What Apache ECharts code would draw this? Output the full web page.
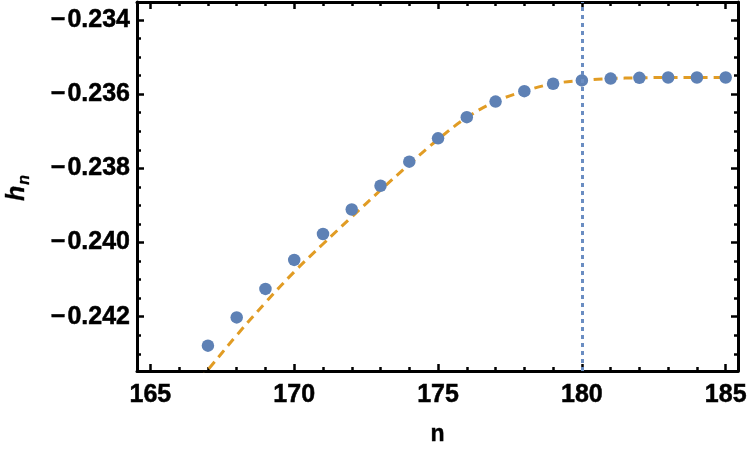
<!DOCTYPE html>
<html>
<head>
<meta charset="utf-8">
<script src="https://cdn.jsdelivr.net/npm/echarts@6/dist/echarts.min.js"></script>
<style>
html,body{margin:0;padding:0;background:#fff;}
#chart{width:750px;height:453px;}
</style>
</head>
<body>
<div id="chart"></div>
<script>
// ---- data ----
const nValues = [167,168,169,170,171,172,173,174,175,176,177,178,179,180,181,182,183,184,185];
const hValues = [-0.24278,-0.24202,-0.24125,-0.24047,-0.23977,-0.23911,-0.23847,-0.23782,-0.23719,-0.23662,-0.23620,-0.23592,-0.23572,-0.23563,-0.23558,-0.23556,-0.23555,-0.23555,-0.23555];
const fitN = [166,167,168,169,170,171,172,173,174,175,176,177,178,179,180,181,182,183,184,185];
const fitH = [-0.24432,-0.24343,-0.24250,-0.24162,-0.24079,-0.24004,-0.23931,-0.23859,-0.23789,-0.23722,-0.23663,-0.23620,-0.23592,-0.23572,-0.23563,-0.23558,-0.23556,-0.23555,-0.23555,-0.23555];
const markerN = [180];
const xMajorTicks = [165,170,175,180,185];
const xMinorTicks = [166,167,168,169,171,172,173,174,176,177,178,179,181,182,183,184];
const yMajorTicks = [-0.242,-0.240,-0.238,-0.236,-0.234];
const yMinorTicks = [-0.2430,-0.2425,-0.2415,-0.2410,-0.2405,-0.2395,-0.2390,-0.2385,-0.2375,-0.2370,-0.2365,-0.2355,-0.2350,-0.2345,-0.2340];
const xRange = [164.534, 185.428];
const yRange = [-0.243464, -0.233515];

const FONT = '"Liberation Sans", Arial, sans-serif';
const gridPos = {left:137, right:12, top:2, bottom:82};
const labelStyle = {color:'#000', fontFamily:FONT, fontWeight:'bold', fontSize:25, textBorderColor:'#000', textBorderWidth:0.5};

function xAx(grid, pos, ticks, len, withLine, labels) {
  return {
    type:'value', gridIndex:grid, position:pos, min:xRange[0], max:xRange[1],
    axisLine:{show:withLine, onZero:false, lineStyle:{color:'#000', width:3}},
    axisTick:{show:true, inside:true, length:len, customValues:ticks, lineStyle:{color:'#000', width:2.5}},
    axisLabel: labels ? Object.assign({show:true, customValues:ticks, margin:12}, labelStyle) : {show:false},
    splitLine:{show:false}
  };
}
function yAx(grid, pos, ticks, len, withLine, labels) {
  return {
    type:'value', gridIndex:grid, position:pos, min:yRange[0], max:yRange[1],
    axisLine:{show:withLine, onZero:false, lineStyle:{color:'#000', width:3}},
    axisTick:{show:true, inside:true, length:len, customValues:ticks, lineStyle:{color:'#000', width:2.5}},
    axisLabel: labels ? Object.assign({show:true, customValues:ticks, margin:7,
      formatter: v => '\u2212\u200A' + Math.abs(v).toFixed(3)}, labelStyle) : {show:false},
    splitLine:{show:false}
  };
}

const xAxes = [xAx(0,'bottom',xMajorTicks,7,true,true), xAx(0,'top',xMajorTicks,7,true,false),
               xAx(1,'bottom',xMinorTicks,4,false,false), xAx(1,'top',xMinorTicks,4,false,false)];
xAxes[0].name = 'n';
xAxes[0].nameLocation = 'middle';
xAxes[0].nameGap = 52;
xAxes[0].nameTextStyle = {color:'#000', fontFamily:FONT, fontWeight:'bold', fontSize:23, textBorderColor:'#000', textBorderWidth:0.4};
const yAxes = [yAx(0,'left',yMajorTicks,7,true,true), yAx(0,'right',yMajorTicks,7,true,false),
               yAx(1,'left',yMinorTicks,4,false,false), yAx(1,'right',yMinorTicks,4,false,false)];

const chart = echarts.init(document.getElementById('chart'), null, {renderer:'canvas'});
chart.setOption({
  animation:false,
  backgroundColor:'#fff',
  grid:[Object.assign({}, gridPos), Object.assign({}, gridPos)],
  xAxis:xAxes,
  yAxis:yAxes,
  graphic:[{
    type:'text', x:17, y:188, rotation:Math.PI/2,
    style:{
      text:'{h|h}{s|n}', align:'center', verticalAlign:'middle', fill:'#000',
      rich:{
        h:{fontFamily:FONT, fontStyle:'italic', fontWeight:'bold', fontSize:25, fill:'#000', stroke:'#000', lineWidth:0.4},
        s:{fontFamily:FONT, fontStyle:'italic', fontWeight:'bold', fontSize:16, fill:'#000', padding:[16,0,0,1], stroke:'#000', lineWidth:0.3}
      }
    }
  }],
  series:[
    {
      type:'line', xAxisIndex:0, yAxisIndex:0,
      data: fitN.map((n,i)=>[n, fitH[i]]),
      smooth:0.4, showSymbol:false, clip:true, z:2,
      lineStyle:{color:'#E19C24', width:3, type:[9,6]}
    },
    {
      type:'scatter', xAxisIndex:0, yAxisIndex:0,
      data: nValues.map((n,i)=>[n, hValues[i]]),
      symbolSize:12.5, z:3,
      itemStyle:{color:'#5E81B5', opacity:1},
      markLine:{
        silent:true, symbol:['none','none'], label:{show:false},
        lineStyle:{color:'#6A8DC2', width:3, type:[4,4]},
        data: markerN.map(v => ({xAxis:v}))
      }
    }
  ]
});
</script>
</body>
</html>
